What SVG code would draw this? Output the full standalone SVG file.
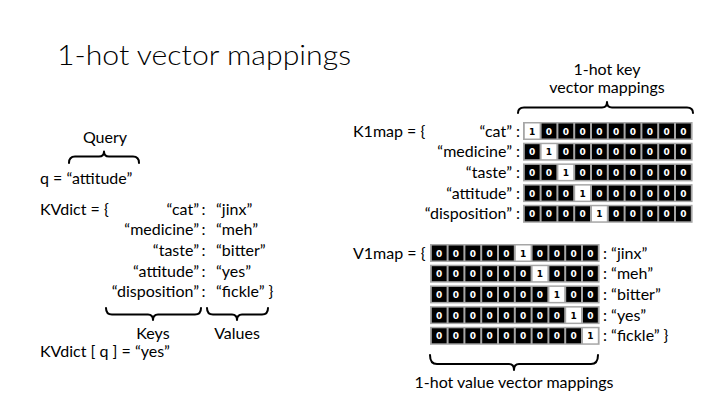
<svg xmlns="http://www.w3.org/2000/svg" xmlns:xlink="http://www.w3.org/1999/xlink" width="720" height="405" viewBox="0 0 720 405">
<style>
.t{font-family:Lato,"Liberation Sans",sans-serif;font-size:16px;fill:#000}
.title{font-family:Lato,"Liberation Sans",sans-serif;font-size:28px;font-weight:300;fill:#000}
.e{text-anchor:end}
.m{text-anchor:middle}
.bar{fill:#a6a6a6}
.d{font-family:"DejaVu Sans",Verdana,sans-serif;font-size:9px;font-weight:bold;text-anchor:middle}
.brace{fill:none;stroke:#000;stroke-width:2;stroke-linejoin:round;stroke-linecap:round}
</style>
<defs>
<g id="c0"><rect width="14.8" height="15" fill="#000"/><text class="d" x="7.4" y="11" fill="#fff">0</text></g>
<g id="c1"><rect width="14.8" height="15" fill="#fff"/><text class="d" x="7.4" y="11" fill="#000">1</text></g>
</defs>
<rect width="720" height="405" fill="#fff"/>
<g id="title"><text class="title" x="57" y="65" textLength="294" lengthAdjust="spacingAndGlyphs">1-hot vector mappings</text></g>

<g id="query">
<text class="t m" x="105" y="143">Query</text>
<text class="t" x="40" y="184">q = “attitude”</text>
</g>
<g id="kvdict">
<text class="t" x="40" y="214.5">KVdict = {</text>
<text class="t e" x="199" y="214.5">“cat”</text><text class="t" x="201.5" y="214.5">:</text><text class="t" x="216" y="214.5">“jinx”</text>
<text class="t e" x="199" y="235.2">“medicine”</text><text class="t" x="201.5" y="235.2">:</text><text class="t" x="216" y="235.2">“meh”</text>
<text class="t e" x="199" y="255.9">“taste”</text><text class="t" x="201.5" y="255.9">:</text><text class="t" x="216" y="255.9">“bitter”</text>
<text class="t e" x="199" y="276.6">“attitude”</text><text class="t" x="201.5" y="276.6">:</text><text class="t" x="216" y="276.6">“yes”</text>
<text class="t e" x="199" y="297.3">“disposition”</text><text class="t" x="201.5" y="297.3">:</text><text class="t" x="216" y="297.3">“fickle” }</text>
</g>
<g id="keys-label"><text class="t m" x="153" y="339">Keys</text></g>
<g id="values-label"><text class="t m" x="237" y="339">Values</text></g>
<g id="lookup"><text class="t" x="40" y="357">KVdict [ q ] = “yes”</text></g>

<g id="key-title">
<text class="t m" x="607" y="75">1-hot key</text>
<text class="t m" x="607" y="93">vector mappings</text>
</g>

<g id="k1map">
<text class="t" x="353" y="136.5">K1map = {</text>
<text class="t e" x="520" y="136.5">“cat” :</text>
<text class="t e" x="520" y="157.2">“medicine” :</text>
<text class="t e" x="520" y="177.9">“taste” :</text>
<text class="t e" x="520" y="198.6">“attitude” :</text>
<text class="t e" x="520" y="219.3">“disposition” :</text>
</g>

<g id="key-vectors">
<g transform="translate(523,122)"><rect class="bar" width="169.6" height="18"/>
<use xlink:href="#c1" x="1.8" y="1.5"/><use xlink:href="#c0" x="18.6" y="1.5"/><use xlink:href="#c0" x="35.4" y="1.5"/><use xlink:href="#c0" x="52.2" y="1.5"/><use xlink:href="#c0" x="69" y="1.5"/><use xlink:href="#c0" x="85.8" y="1.5"/><use xlink:href="#c0" x="102.6" y="1.5"/><use xlink:href="#c0" x="119.4" y="1.5"/><use xlink:href="#c0" x="136.2" y="1.5"/><use xlink:href="#c0" x="153" y="1.5"/></g>
<g transform="translate(523,142.7)"><rect class="bar" width="169.6" height="18"/>
<use xlink:href="#c0" x="1.8" y="1.5"/><use xlink:href="#c1" x="18.6" y="1.5"/><use xlink:href="#c0" x="35.4" y="1.5"/><use xlink:href="#c0" x="52.2" y="1.5"/><use xlink:href="#c0" x="69" y="1.5"/><use xlink:href="#c0" x="85.8" y="1.5"/><use xlink:href="#c0" x="102.6" y="1.5"/><use xlink:href="#c0" x="119.4" y="1.5"/><use xlink:href="#c0" x="136.2" y="1.5"/><use xlink:href="#c0" x="153" y="1.5"/></g>
<g transform="translate(523,163.4)"><rect class="bar" width="169.6" height="18"/>
<use xlink:href="#c0" x="1.8" y="1.5"/><use xlink:href="#c0" x="18.6" y="1.5"/><use xlink:href="#c1" x="35.4" y="1.5"/><use xlink:href="#c0" x="52.2" y="1.5"/><use xlink:href="#c0" x="69" y="1.5"/><use xlink:href="#c0" x="85.8" y="1.5"/><use xlink:href="#c0" x="102.6" y="1.5"/><use xlink:href="#c0" x="119.4" y="1.5"/><use xlink:href="#c0" x="136.2" y="1.5"/><use xlink:href="#c0" x="153" y="1.5"/></g>
<g transform="translate(523,184.1)"><rect class="bar" width="169.6" height="18"/>
<use xlink:href="#c0" x="1.8" y="1.5"/><use xlink:href="#c0" x="18.6" y="1.5"/><use xlink:href="#c0" x="35.4" y="1.5"/><use xlink:href="#c1" x="52.2" y="1.5"/><use xlink:href="#c0" x="69" y="1.5"/><use xlink:href="#c0" x="85.8" y="1.5"/><use xlink:href="#c0" x="102.6" y="1.5"/><use xlink:href="#c0" x="119.4" y="1.5"/><use xlink:href="#c0" x="136.2" y="1.5"/><use xlink:href="#c0" x="153" y="1.5"/></g>
<g transform="translate(523,204.8)"><rect class="bar" width="169.6" height="18"/>
<use xlink:href="#c0" x="1.8" y="1.5"/><use xlink:href="#c0" x="18.6" y="1.5"/><use xlink:href="#c0" x="35.4" y="1.5"/><use xlink:href="#c0" x="52.2" y="1.5"/><use xlink:href="#c1" x="69" y="1.5"/><use xlink:href="#c0" x="85.8" y="1.5"/><use xlink:href="#c0" x="102.6" y="1.5"/><use xlink:href="#c0" x="119.4" y="1.5"/><use xlink:href="#c0" x="136.2" y="1.5"/><use xlink:href="#c0" x="153" y="1.5"/></g>
</g>

<g id="v1map">
<text class="t" x="353" y="258.5">V1map = {</text>
<text class="t" x="603" y="258.5">: “jinx”</text>
<text class="t" x="603" y="279.2">: “meh”</text>
<text class="t" x="603" y="299.9">: “bitter”</text>
<text class="t" x="603" y="320.6">: “yes”</text>
<text class="t" x="603" y="341.3">: “fickle” }</text>
</g>

<g id="value-vectors">
<g transform="translate(430,244)"><rect class="bar" width="169.6" height="18"/>
<use xlink:href="#c0" x="1.8" y="1.5"/><use xlink:href="#c0" x="18.6" y="1.5"/><use xlink:href="#c0" x="35.4" y="1.5"/><use xlink:href="#c0" x="52.2" y="1.5"/><use xlink:href="#c0" x="69" y="1.5"/><use xlink:href="#c1" x="85.8" y="1.5"/><use xlink:href="#c0" x="102.6" y="1.5"/><use xlink:href="#c0" x="119.4" y="1.5"/><use xlink:href="#c0" x="136.2" y="1.5"/><use xlink:href="#c0" x="153" y="1.5"/></g>
<g transform="translate(430,264.7)"><rect class="bar" width="169.6" height="18"/>
<use xlink:href="#c0" x="1.8" y="1.5"/><use xlink:href="#c0" x="18.6" y="1.5"/><use xlink:href="#c0" x="35.4" y="1.5"/><use xlink:href="#c0" x="52.2" y="1.5"/><use xlink:href="#c0" x="69" y="1.5"/><use xlink:href="#c0" x="85.8" y="1.5"/><use xlink:href="#c1" x="102.6" y="1.5"/><use xlink:href="#c0" x="119.4" y="1.5"/><use xlink:href="#c0" x="136.2" y="1.5"/><use xlink:href="#c0" x="153" y="1.5"/></g>
<g transform="translate(430,285.4)"><rect class="bar" width="169.6" height="18"/>
<use xlink:href="#c0" x="1.8" y="1.5"/><use xlink:href="#c0" x="18.6" y="1.5"/><use xlink:href="#c0" x="35.4" y="1.5"/><use xlink:href="#c0" x="52.2" y="1.5"/><use xlink:href="#c0" x="69" y="1.5"/><use xlink:href="#c0" x="85.8" y="1.5"/><use xlink:href="#c0" x="102.6" y="1.5"/><use xlink:href="#c1" x="119.4" y="1.5"/><use xlink:href="#c0" x="136.2" y="1.5"/><use xlink:href="#c0" x="153" y="1.5"/></g>
<g transform="translate(430,306.1)"><rect class="bar" width="169.6" height="18"/>
<use xlink:href="#c0" x="1.8" y="1.5"/><use xlink:href="#c0" x="18.6" y="1.5"/><use xlink:href="#c0" x="35.4" y="1.5"/><use xlink:href="#c0" x="52.2" y="1.5"/><use xlink:href="#c0" x="69" y="1.5"/><use xlink:href="#c0" x="85.8" y="1.5"/><use xlink:href="#c0" x="102.6" y="1.5"/><use xlink:href="#c0" x="119.4" y="1.5"/><use xlink:href="#c1" x="136.2" y="1.5"/><use xlink:href="#c0" x="153" y="1.5"/></g>
<g transform="translate(430,326.8)"><rect class="bar" width="169.6" height="18"/>
<use xlink:href="#c0" x="1.8" y="1.5"/><use xlink:href="#c0" x="18.6" y="1.5"/><use xlink:href="#c0" x="35.4" y="1.5"/><use xlink:href="#c0" x="52.2" y="1.5"/><use xlink:href="#c0" x="69" y="1.5"/><use xlink:href="#c0" x="85.8" y="1.5"/><use xlink:href="#c0" x="102.6" y="1.5"/><use xlink:href="#c0" x="119.4" y="1.5"/><use xlink:href="#c0" x="136.2" y="1.5"/><use xlink:href="#c1" x="153" y="1.5"/></g>
</g>
<g id="value-title"><text class="t m" x="514" y="388">1-hot value vector mappings</text></g>

<g id="connectors">
<path class="brace" d="M69,163 Q69,156.5 75,156.5 L99,156.5 Q104,156.5 104,151.5 Q104,156.5 109,156.5 L133,156.5 Q139,156.5 139,163"/>
<path class="brace" d="M106,308 Q106,314.5 112,314.5 L148,314.5 Q153,314.5 153,320 Q153,314.5 158,314.5 L195,314.5 Q201,314.5 201,308"/>
<path class="brace" d="M207,308 Q207,314.5 213,314.5 L232,314.5 Q237,314.5 237,320 Q237,314.5 242,314.5 L262,314.5 Q268,314.5 268,308"/>
<path class="brace" d="M518,113 Q518,107.5 524,107.5 L602,107.5 Q607,107.5 607,102 Q607,107.5 612,107.5 L687,107.5 Q693,107.5 693,113"/>
<path class="brace" d="M430,355 Q430,364 437,364 L509,364 Q514,364 514,370 Q514,364 519,364 L591,364 Q598,364 598,355"/>
</g>
</svg>
